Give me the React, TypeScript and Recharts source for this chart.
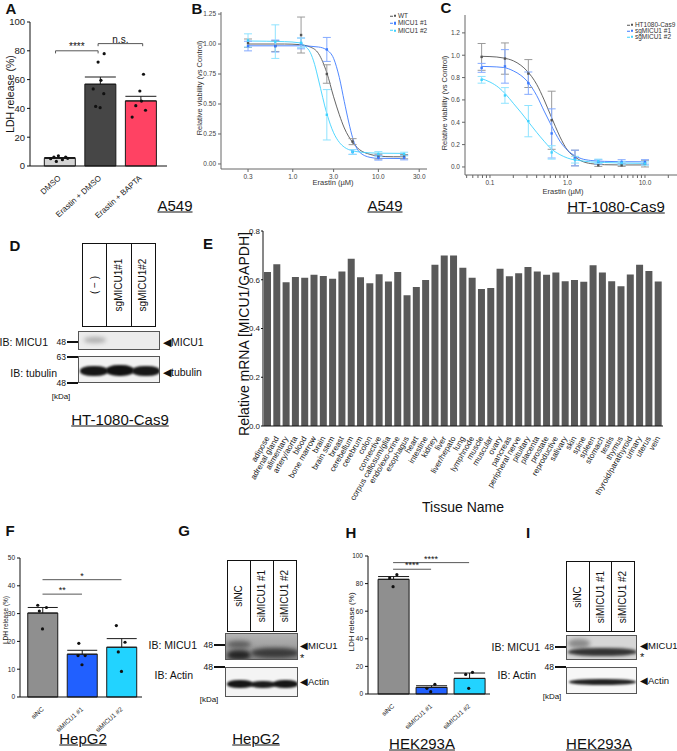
import React from 'react';
import {
  ComposedChart,
  BarChart,
  Bar,
  XAxis,
  YAxis,
  Scatter,
  ErrorBar,
  Line,
  ReferenceLine,
  Cell,
} from 'recharts';

const FONT = '"Liberation Sans", Arial, Helvetica, sans-serif';

// ---------- A: LDH release, A549
const aNames = ['DMSO', 'Erastin + DMSO', 'Erastin + BAPTA'];
const aMeans = [5.3, 56.8, 45.2];
const aSem = [0.6, 5.0, 3.2];
const aColors = ['#d4d4d4', '#464646', '#ff4263'];
const aDots = [
  { x: -0.22, y: 5.1 }, { x: -0.14, y: 6.2 }, { x: -0.03, y: 7.1 }, { x: 0.07, y: 4.4 },
  { x: 0.15, y: 6.2 }, { x: -0.08, y: 3.2 }, { x: 0.2, y: 5.3 },
  { x: 1.1, y: 78 }, { x: 0.95, y: 72.2 }, { x: 1.02, y: 59.5 }, { x: 0.83, y: 53.5 },
  { x: 1.09, y: 50.2 }, { x: 0.89, y: 41.4 }, { x: 1.0, y: 40.5 },
  { x: 2.07, y: 63.7 }, { x: 1.98, y: 52.1 }, { x: 1.88, y: 41.9 }, { x: 2.12, y: 38.7 },
  { x: 2.02, y: 45.1 }, { x: 1.79, y: 34.0 },
];
const aSig = [
  { x1: -0.1, x2: 0.95, y: 80, text: '****' },
  { x1: 0.95, x2: 2.05, y: 85, text: 'n.s.' },
];

// ---------- B: dose response, A549
const bWT = [[0.3, 1.007, 0.035], [0.625, 0.983, 0.045], [1.25, 1.075, 0.15], [2.5, 0.75, 0.077], [5, 0.186, 0.025], [10, 0.061, 0.02], [20, 0.061, 0.018]];
const bM1 = [[0.3, 0.983, 0.04], [0.625, 0.983, 0.05], [1.25, 1.005, 0.045], [2.5, 0.955, 0.1], [5, 0.1, 0.02], [10, 0.052, 0.02], [20, 0.052, 0.018]];
const bM2 = [[0.3, 1.03, 0.055], [0.625, 1.02, 0.14], [1.25, 1.01, 0.04], [2.5, 0.41, 0.21], [5, 0.1, 0.02], [10, 0.083, 0.02], [20, 0.083, 0.015]];
const bWTfit = [[0.3, 1.0], [0.8, 1.0], [1.2, 0.995], [1.6, 0.975], [2.0, 0.92], [2.5, 0.76], [3.0, 0.56], [3.5, 0.41], [4.0, 0.3], [5.0, 0.18], [6.0, 0.12], [8.0, 0.08], [10, 0.066], [15, 0.06], [20, 0.06]];
const bM1fit = [[0.3, 0.985], [1.2, 0.985], [2.0, 0.975], [2.5, 0.95], [3.0, 0.88], [3.5, 0.72], [4.0, 0.52], [4.5, 0.35], [5.0, 0.22], [6.0, 0.1], [8.0, 0.055], [10, 0.047], [20, 0.045]];
const bM2fit = [[0.3, 1.025], [0.8, 1.02], [1.2, 1.01], [1.4, 0.98], [1.6, 0.93], [1.8, 0.83], [2.0, 0.7], [2.5, 0.42], [3.0, 0.26], [3.5, 0.18], [4.0, 0.14], [5.0, 0.11], [6.0, 0.1], [10, 0.09], [20, 0.088]];
const bLegend = ['WT', 'MICU1 #1', 'MICU1 #2'];

// ---------- C: dose response, HT-1080-Cas9
const cWT = [[0.078, 0.985, 0.12], [0.156, 0.97, 0.14], [0.3125, 0.836, 0.125], [0.625, 0.418, 0.26], [1.25, 0.08, 0.07], [2.5, 0.015, 0.01], [5, 0.015, 0.01], [10, 0.03, 0.03]];
const cS1 = [[0.078, 0.887, 0.04], [0.156, 0.9, 0.15], [0.3125, 0.75, 0.1], [0.625, 0.3, 0.22], [1.25, 0.08, 0.07], [2.5, 0.045, 0.02], [5, 0.045, 0.02], [10, 0.045, 0.02]];
const cS2 = [[0.078, 0.78, 0.03], [0.156, 0.64, 0.07], [0.3125, 0.41, 0.14], [0.625, 0.13, 0.06], [1.25, 0.065, 0.03], [2.5, 0.05, 0.02], [5, 0.035, 0.015], [10, 0.03, 0.015]];
const cWTfit = [[0.078, 0.99], [0.1, 0.988], [0.15, 0.975], [0.2, 0.95], [0.25, 0.91], [0.3, 0.86], [0.4, 0.74], [0.5, 0.6], [0.6, 0.47], [0.7, 0.36], [0.8, 0.27], [1.0, 0.15], [1.25, 0.09], [1.5, 0.055], [2.0, 0.03], [3.0, 0.02], [5, 0.018], [10, 0.018]];
const cS1fit = [[0.078, 0.9], [0.1, 0.898], [0.15, 0.89], [0.2, 0.86], [0.25, 0.82], [0.3, 0.77], [0.4, 0.64], [0.5, 0.5], [0.6, 0.39], [0.7, 0.3], [0.8, 0.23], [1.0, 0.15], [1.25, 0.1], [1.5, 0.075], [2.0, 0.058], [3.0, 0.05], [5, 0.047], [10, 0.046]];
const cS2fit = [[0.078, 0.79], [0.1, 0.76], [0.13, 0.71], [0.16, 0.65], [0.2, 0.57], [0.25, 0.49], [0.3, 0.42], [0.4, 0.31], [0.5, 0.23], [0.6, 0.17], [0.8, 0.11], [1.0, 0.08], [1.5, 0.055], [2.0, 0.045], [3, 0.04], [5, 0.035], [10, 0.032]];
const cLegend = ['HT1080-Cas9', 'sgMICU1 #1', 'sgMICU1 #2'];

const seriesColors = ['#555555', '#3d7bff', '#3fd2ff'];
const errColors = ['#9a9a9a', '#84aaff', '#8fe3ff'];

// ---------- E: tissue expression
const tissues = ['adipose', 'adrenal gland', 'alimentary', 'artery/aorta', 'blood', 'bone marrow', 'brain', 'brain stem', 'breast', 'cerebellum', 'cerebrum', 'colon', 'connective', 'corpus callosum/glia', 'endo/exo-crine', 'esophagus', 'heart', 'intestine', 'kidney', 'liver', 'liver/hepato', 'lung', 'lymphnode', 'muscle', 'muscular', 'ovary', 'pancreas', 'peripheral nerve', 'pituitary', 'placenta', 'prostate', 'reproductive', 'salivary', 'skin', 'spine', 'spleen', 'stomach', 'testis', 'thymus', 'thyroid/parathyroid', 'urinary', 'uterus', 'vein'];
const micu1mRNA = [0.632, 0.664, 0.59, 0.611, 0.608, 0.621, 0.615, 0.604, 0.634, 0.686, 0.61, 0.586, 0.623, 0.593, 0.632, 0.536, 0.57, 0.599, 0.662, 0.7, 0.7, 0.649, 0.608, 0.562, 0.566, 0.645, 0.614, 0.627, 0.652, 0.634, 0.621, 0.63, 0.594, 0.599, 0.592, 0.659, 0.63, 0.594, 0.573, 0.622, 0.662, 0.636, 0.593];

// ---------- F / H: LDH release after siRNA
const siNames = ['siNC', 'siMICU1 #1', 'siMICU1 #2'];
const siColors = ['#8f8f8f', '#2160ff', '#22d3ff'];
const fMeans = [30.2, 15.4, 17.9];
const fSem = [2.0, 1.4, 3.1];
const fDots = [
  { x: -0.12, y: 33 }, { x: 0.1, y: 32.2 }, { x: -0.08, y: 30.9 }, { x: 0, y: 24.5 },
  { x: 0.92, y: 19.3 }, { x: 0.9, y: 14.9 }, { x: 1.08, y: 14.9 }, { x: 1.0, y: 11.6 },
  { x: 1.87, y: 25.7 }, { x: 2.09, y: 19.7 }, { x: 1.92, y: 16.2 }, { x: 2.0, y: 9.2 },
];
const fSig = [
  { x1: 0, x2: 1, y: 37, text: '**' },
  { x1: 0, x2: 2, y: 42.2, text: '*' },
];
const hMeans = [83.1, 4.8, 11.3];
const hSem = [2.0, 1.2, 3.9];
const hDots = [
  { x: -0.09, y: 84 }, { x: 0.1, y: 86.5 }, { x: 0, y: 77.8 },
  { x: 1.1, y: 7 }, { x: 0.89, y: 4.1 }, { x: 0.99, y: 1.7 },
  { x: 1.91, y: 14.2 }, { x: 2.09, y: 15.7 }, { x: 1.99, y: 4.1 },
];
const hSig = [
  { x1: 0, x2: 1, y: 90.4, text: '****' },
  { x1: 0, x2: 2, y: 95.2, text: '****' },
];

const toXY = (arr: number[][]) => arr.map(([x, y]) => ({ x, y }));
const toPts = (arr: number[][]) => arr.map(([x, y, e]) => ({ x, y, e }));

// ---------- small helpers
const Txt = ({ x, y, s = 10, a = 'c', r = 0, b = false, u = false, c = '#111', children }: any) => {
  const tx = a === 'c' ? '-50%' : a === 'r' ? '-100%' : '0%';
  return (
    <div
      style={{
        position: 'absolute',
        left: x,
        top: y,
        fontSize: s,
        fontWeight: b ? 700 : 400,
        textDecoration: u ? 'underline' : 'none',
        color: c,
        whiteSpace: 'nowrap',
        lineHeight: 1,
        transform: `translate(${tx}, -50%) rotate(${r}deg)`,
      }}
    >
      {children}
    </div>
  );
};

const NameTick = ({ x, y, payload, size, angle }: any) => (
  <text
    x={x}
    y={y + 3}
    transform={`rotate(${angle} ${x} ${y + 3})`}
    textAnchor="end"
    dominantBaseline="central"
    fontSize={size}
    fill="#222"
    fontFamily={FONT}
  >
    {payload.value}
  </text>
);

const blackDot = (p: any) => <circle cx={p.cx} cy={p.cy} r={1.6} fill="#111" />;

function LdhBars(props: any) {
  const { left, top, width, height, margin, yWidth, xHeight, xDomain, yMax, yTicks, names, means, sem, colors, dots, sig, tickSize, nameSize, angle, starSize, barSize, drop } = props;
  const rows = means.map((v: number, i: number) => ({ name: names[i], v, e: [0, sem[i]] }));
  // category bands lined up with a hidden numeric axis used for dots and brackets
  const plotW = width - margin.left - margin.right - yWidth;
  const bw = plotW / (xDomain[1] - xDomain[0]);
  const padL = (-0.5 - xDomain[0]) * bw;
  const padR = (xDomain[1] - (names.length - 0.5)) * bw;
  return (
    <div style={{ position: 'absolute', left, top }}>
      <ComposedChart width={width} height={height} data={rows} margin={margin}>
        <XAxis
          dataKey="name"
          interval={0}
          height={xHeight}
          padding={{ left: padL, right: padR }}
          tickLine={false}
          axisLine={{ stroke: '#111' }}
          tick={(p: any) => <NameTick {...p} size={nameSize} angle={angle} />}
        />
        <XAxis xAxisId="n" type="number" dataKey="x" domain={xDomain} allowDataOverflow hide />
        <YAxis
          type="number"
          domain={[0, yMax]}
          ticks={yTicks}
          interval={0}
          width={yWidth}
          tick={{ fontSize: tickSize, fill: '#222', fontFamily: FONT }}
          tickSize={3}
          tickMargin={2}
          axisLine={{ stroke: '#111' }}
          tickLine={{ stroke: '#111' }}
        />
        <Bar dataKey="v" barSize={barSize} stroke="#1a1a1a" strokeWidth={1} isAnimationActive={false}>
          {rows.map((_: any, i: number) => (
            <Cell key={i} fill={colors[i]} />
          ))}
          <ErrorBar dataKey="e" width={barSize * 0.5} stroke="#1a1a1a" strokeWidth={1} direction="y" />
        </Bar>
        <Scatter xAxisId="n" data={dots} dataKey="y" isAnimationActive={false} shape={blackDot} />
        {sig.map((s: any, i: number) => (
          <ReferenceLine
            key={'s' + i}
            xAxisId="n"
            segment={[{ x: s.x1, y: s.y }, { x: s.x2, y: s.y }]}
            stroke="#444"
            strokeWidth={0.9}
            label={{ value: s.text, position: 'top', fontSize: starSize, fill: '#111', offset: 1 }}
          />
        ))}
        {drop > 0 &&
          sig.flatMap((s: any, i: number) => [
            <ReferenceLine key={'a' + i} xAxisId="n" segment={[{ x: s.x1, y: s.y }, { x: s.x1, y: s.y - drop }]} stroke="#444" strokeWidth={0.9} />,
            <ReferenceLine key={'b' + i} xAxisId="n" segment={[{ x: s.x2, y: s.y }, { x: s.x2, y: s.y - drop }]} stroke="#444" strokeWidth={0.9} />,
          ])}
      </ComposedChart>
    </div>
  );
}

const smallSquare = (color: string) => (p: any) => (
  <rect x={p.cx - 1.2} y={p.cy - 1.2} width={2.4} height={2.4} fill={color} />
);

function DoseChart(props: any) {
  const { left, top, width, height, margin, yWidth, xHeight, xDomain, xTicks, xMajor, yDomain, yTicks, yDigits, series } = props;
  return (
    <div style={{ position: 'absolute', left, top }}>
      <ComposedChart width={width} height={height} margin={margin}>
        <XAxis
          type="number"
          dataKey="x"
          scale="log"
          domain={xDomain}
          allowDataOverflow
          ticks={xTicks}
          interval={0}
          height={xHeight}
          tickSize={3}
          tickMargin={2}
          tick={{ fontSize: 6.5, fill: '#444', fontFamily: FONT }}
          tickFormatter={(v: number) => (xMajor.includes(v) ? v.toFixed(1) : '')}
          axisLine={{ stroke: '#666' }}
          tickLine={{ stroke: '#666' }}
        />
        <YAxis
          type="number"
          domain={yDomain}
          allowDataOverflow
          ticks={yTicks}
          interval={0}
          width={yWidth}
          tickSize={3}
          tickMargin={2}
          tick={{ fontSize: 6.5, fill: '#444', fontFamily: FONT }}
          tickFormatter={(v: number) => v.toFixed(yDigits)}
          axisLine={{ stroke: '#666' }}
          tickLine={{ stroke: '#666' }}
        />
        {series.map((s: any, i: number) => (
          <Line
            key={'l' + i}
            data={toXY(s.fit)}
            dataKey="y"
            type="monotone"
            stroke={seriesColors[i]}
            strokeWidth={0.9}
            dot={false}
            isAnimationActive={false}
          />
        ))}
        {series.map((s: any, i: number) => (
          <Scatter key={'p' + i} data={toPts(s.pts)} dataKey="y" isAnimationActive={false} shape={smallSquare(seriesColors[i])}>
            <ErrorBar dataKey="e" direction="y" width={4} stroke={errColors[i]} strokeWidth={1} />
          </Scatter>
        ))}
      </ComposedChart>
    </div>
  );
}

const Legend = ({ x, y, step, labels, s }: any) => (
  <>
    {labels.map((l: string, i: number) => (
      <div key={i} style={{ position: 'absolute', left: x, top: y + i * step, display: 'flex', alignItems: 'center', transform: 'translateY(-50%)' }}>
        <div style={{ width: 3, height: 0.8, background: seriesColors[i], marginRight: 0.5 }} />
        <div style={{ width: 2.4, height: 2.4, background: seriesColors[i], marginRight: 2 }} />
        <span style={{ fontSize: s, lineHeight: 1, color: '#333' }}>{l}</span>
      </div>
    ))}
  </>
);

// ---------- blot helpers
const Lanes = ({ x, y, w, h, labels, s }: any) => (
  <div style={{ position: 'absolute', left: x, top: y, width: w, height: h, border: '1.5px solid #111', boxSizing: 'border-box', display: 'flex' }}>
    {labels.map((l: string, i: number) => (
      <div key={i} style={{ flex: 1, borderLeft: i ? '1.5px solid #111' : 'none', position: 'relative' }}>
        <div style={{ position: 'absolute', left: '50%', top: '50%', transform: 'translate(-50%,-50%) rotate(-90deg)', fontSize: s, whiteSpace: 'nowrap', lineHeight: 1 }}>
          {l}
        </div>
      </div>
    ))}
  </div>
);

const Strip = ({ x, y, w, h, bg, bands }: any) => (
  <div style={{ position: 'absolute', left: x, top: y, width: w, height: h, background: bg, border: '1px solid #555', boxSizing: 'border-box', overflow: 'hidden' }}>
    {bands.map((b: any, i: number) => (
      <div key={i} style={{ position: 'absolute', left: b.x, top: b.y, width: b.w, height: b.h, background: b.c, borderRadius: '45%', filter: `blur(${b.bl}px)` }} />
    ))}
  </div>
);

const Mw = ({ x, y, label }: any) => (
  <>
    <div style={{ position: 'absolute', left: x - 11, top: y - 0.6, width: 11, height: 1.3, background: '#111' }} />
    <Txt x={x - 12} y={y} s={8.5} a="r">{label}</Txt>
  </>
);

export default function App() {
  const eRows = tissues.map((name, i) => ({ name, v: micu1mRNA[i] }));
  return (
    <div style={{ position: 'absolute', left: 0, top: 0, width: 677, height: 751, background: '#fff', fontFamily: FONT, color: '#111', overflow: 'hidden' }}>
      {/* panel letters */}
      <Txt x={11} y={8} s={15} b>A</Txt>
      <Txt x={197} y={8} s={15} b>B</Txt>
      <Txt x={446} y={7} s={15} b>C</Txt>
      <Txt x={15} y={245} s={15} b>D</Txt>
      <Txt x={208} y={243} s={15} b>E</Txt>
      <Txt x={10} y={530} s={15} b>F</Txt>
      <Txt x={184} y={530} s={15} b>G</Txt>
      <Txt x={351} y={532} s={15} b>H</Txt>
      <Txt x={528} y={532} s={15} b>I</Txt>

      {/* A */}
      <LdhBars
        left={0} top={0} width={175} height={228}
        margin={{ top: 22, right: 8, left: 0, bottom: 0 }}
        yWidth={30} xHeight={62} xDomain={[-0.73, 2.65]} yMax={100} yTicks={[0, 20, 40, 60, 80, 100]}
        names={aNames} means={aMeans} sem={aSem} colors={aColors} dots={aDots} sig={aSig}
        tickSize={9.5} nameSize={8} angle={-42} starSize={10} barSize={31} drop={1.8}
      />
      <Txt x={10} y={94} s={10.5} r={-90}>LDH release (%)</Txt>
      <Txt x={175} y={205} s={15} u>A549</Txt>

      {/* B */}
      <DoseChart
        left={190} top={0} width={240} height={190}
        margin={{ top: 12, right: 3, left: 0, bottom: 0 }}
        yWidth={31} xHeight={21}
        xDomain={[0.145, 37]} xTicks={[0.3, 1, 3, 10, 30]} xMajor={[0.3, 1, 3, 10, 30]}
        yDomain={[-0.042, 1.267]} yTicks={[0, 0.25, 0.5, 0.75, 1.0, 1.25]} yDigits={2}
        series={[{ pts: bWT, fit: bWTfit }, { pts: bM1, fit: bM1fit }, { pts: bM2, fit: bM2fit }]}
      />
      <Legend x={390} y={16} step={7.3} labels={bLegend} s={6.5} />
      <Txt x={200} y={88} s={7.5} r={-90} c="#333">Relative viability (vs Control)</Txt>
      <Txt x={333} y={183} s={7.5} c="#333">Erastin (µM)</Txt>
      <Txt x={385} y={205} s={15} u>A549</Txt>

      {/* C */}
      <DoseChart
        left={435} top={0} width={242} height={195}
        margin={{ top: 15, right: 0, left: 0, bottom: 0 }}
        yWidth={30} xHeight={20}
        xDomain={[0.0476, 25.9]}
        xTicks={[0.05, 0.06, 0.07, 0.08, 0.09, 0.1, 0.2, 0.3, 0.4, 0.5, 0.6, 0.7, 0.8, 0.9, 1, 2, 3, 4, 5, 6, 7, 8, 9, 10, 20]}
        xMajor={[0.1, 1, 10]}
        yDomain={[-0.072, 1.36]} yTicks={[0, 0.2, 0.4, 0.6, 0.8, 1.0, 1.2]} yDigits={1}
        series={[{ pts: cWT, fit: cWTfit }, { pts: cS1, fit: cS1fit }, { pts: cS2, fit: cS2fit }]}
      />
      <Legend x={627} y={25} step={6} labels={cLegend} s={6.5} />
      <Txt x={445} y={103} s={7.5} r={-90} c="#333">Relative viability (vs Control)</Txt>
      <Txt x={563} y={192} s={7.5} c="#333">Erastin (µM)</Txt>
      <Txt x={616} y={206} s={15} u>HT-1080-Cas9</Txt>

      {/* D */}
      <Lanes x={82} y={243} w={74} h={84} labels={['( − )', 'sgMICU1#1', 'sgMICU1#2']} s={10} />
      <Strip x={78} y={331} w={82} h={19} bg="#ececec" bands={[{ x: 5, y: 5, w: 22, h: 6, c: 'rgba(60,60,60,0.35)', bl: 2 }]} />
      <Strip
        x={78} y={356} w={82} h={27} bg="#f2f2f2"
        bands={[
          { x: 1, y: 9, w: 28, h: 10, c: '#161616', bl: 1.3 },
          { x: 27, y: 8, w: 28, h: 11, c: '#111', bl: 1.3 },
          { x: 53, y: 9, w: 28, h: 10, c: '#181818', bl: 1.3 },
        ]}
      />
      <Txt x={48} y={342} s={10.5} a="r">IB: MICU1</Txt>
      <Txt x={57} y={373} s={10.5} a="r">IB: tubulin</Txt>
      <Mw x={78} y={342} label="48" />
      <Mw x={78} y={357} label="63" />
      <Mw x={78} y={383} label="48" />
      <Txt x={61} y={397} s={8}>[kDa]</Txt>
      <Txt x={163} y={342} s={10.5} a="l">◀MICU1</Txt>
      <Txt x={163} y={372} s={10.5} a="l">◀tubulin</Txt>
      <Txt x={120} y={419} s={15} u>HT-1080-Cas9</Txt>

      {/* E */}
      <div style={{ position: 'absolute', left: 238, top: 215 }}>
        <BarChart width={425} height={291} data={eRows} margin={{ top: 16, right: 0, left: 0, bottom: 0 }}>
          <XAxis
            dataKey="name"
            interval={0}
            height={80}
            tickLine={false}
            axisLine={{ stroke: '#111' }}
            tick={(p: any) => <NameTick {...p} size={8} angle={-60} />}
          />
          <YAxis
            domain={[0, 0.8]}
            ticks={[0, 0.2, 0.4, 0.6, 0.8]}
            interval={0}
            width={25}
            tickFormatter={(v: number) => v.toFixed(1)}
            tick={{ fontSize: 8, fill: '#222', fontFamily: FONT }}
            tickSize={2}
            tickMargin={1}
            axisLine={{ stroke: '#111' }}
            tickLine={{ stroke: '#111' }}
          />
          <Bar dataKey="v" barSize={7} fill="#595959" isAnimationActive={false} />
        </BarChart>
      </div>
      <Txt x={244} y={334} s={14} r={-90}>Relative mRNA [MICU1/GAPDH]</Txt>
      <Txt x={463} y={507} s={14}>Tissue Name</Txt>

      {/* F */}
      <LdhBars
        left={0} top={545} width={145} height={195}
        margin={{ top: 13, right: 3, left: 0, bottom: 0 }}
        yWidth={20} xHeight={43} xDomain={[-0.57, 2.52]} yMax={50} yTicks={[0, 10, 20, 30, 40, 50]}
        names={siNames} means={fMeans} sem={fSem} colors={siColors} dots={fDots} sig={fSig}
        tickSize={6.5} nameSize={6.5} angle={-42} starSize={9} barSize={30} drop={0}
      />
      <Txt x={6} y={620} s={6.5} r={-90}>LDH release (%)</Txt>
      <Txt x={83} y={738} s={15} u>HepG2</Txt>

      {/* G */}
      <Lanes x={227} y={560} w={70} h={72} labels={['siNC', 'siMICU1 #1', 'siMICU1 #2']} s={10} />
      <Strip
        x={225} y={633} w={73} h={27} bg="linear-gradient(#b4b4b4, #8c8c8c)"
        bands={[
          { x: 1, y: 7, w: 24, h: 7, c: '#5e5e5e', bl: 2 },
          { x: 1, y: 16, w: 24, h: 10, c: '#262626', bl: 2 },
          { x: 25, y: 14, w: 48, h: 10, c: '#3a3a3a', bl: 2 },
        ]}
      />
      <Strip
        x={225} y={667} w={73} h={30} bg="#f4f4f4"
        bands={[
          { x: 1, y: 12, w: 26, h: 8, c: '#161616', bl: 1.3 },
          { x: 24, y: 13, w: 26, h: 7, c: '#1c1c1c', bl: 1.3 },
          { x: 47, y: 12, w: 25, h: 8, c: '#161616', bl: 1.3 },
        ]}
      />
      <Txt x={197} y={645} s={10.5} a="r">IB: MICU1</Txt>
      <Txt x={193} y={675} s={10.5} a="r">IB: Actin</Txt>
      <Mw x={225} y={645} label="48" />
      <Mw x={225} y={667} label="48" />
      <Txt x={209} y={700} s={8}>[kDa]</Txt>
      <Txt x={300} y={646} s={9.5} a="l">◀MICU1</Txt>
      <Txt x={300} y={658} s={11} a="l">*</Txt>
      <Txt x={300} y={682} s={9.5} a="l">◀Actin</Txt>
      <Txt x={256} y={738} s={15} u>HepG2</Txt>

      {/* H */}
      <LdhBars
        left={345} top={543} width={145} height={194}
        margin={{ top: 13, right: 0, left: 0, bottom: 0 }}
        yWidth={23} xHeight={43} xDomain={[-0.66, 2.55]} yMax={100} yTicks={[0, 20, 40, 60, 80, 100]}
        names={siNames} means={hMeans} sem={hSem} colors={siColors} dots={hDots} sig={hSig}
        tickSize={6.5} nameSize={6.5} angle={-42} starSize={9} barSize={31} drop={0}
      />
      <Txt x={352} y={622} s={8} r={-90}>LDH release (%)</Txt>
      <Txt x={422} y={743} s={15} u>HEK293A</Txt>

      {/* I */}
      <Lanes x={566} y={561} w={69} h={71} labels={['siNC', 'siMICU1 #1', 'siMICU1 #2']} s={10} />
      <Strip
        x={566} y={635} w={71} h={25} bg="#d6d6d6"
        bands={[
          { x: 1, y: 3, w: 22, h: 9, c: '#8a8a8a', bl: 2 },
          { x: 1, y: 12, w: 69, h: 8, c: '#333', bl: 1.8 },
        ]}
      />
      <Strip
        x={566} y={667} w={71} h={27} bg="#f7f7f7"
        bands={[{ x: 2, y: 11, w: 67, h: 6, c: '#222', bl: 1.2 }]}
      />
      <Txt x={540} y={647} s={10.5} a="r">IB: MICU1</Txt>
      <Txt x={536} y={675} s={10.5} a="r">IB: Actin</Txt>
      <Mw x={566} y={647} label="48" />
      <Mw x={566} y={667} label="48" />
      <Txt x={552} y={697} s={8}>[kDa]</Txt>
      <Txt x={640} y={646} s={9.5} a="l">◀MICU1</Txt>
      <Txt x={640} y={657} s={11} a="l">*</Txt>
      <Txt x={640} y={681} s={9.5} a="l">◀Actin</Txt>
      <Txt x={599} y={743} s={15} u>HEK293A</Txt>
    </div>
  );
}
